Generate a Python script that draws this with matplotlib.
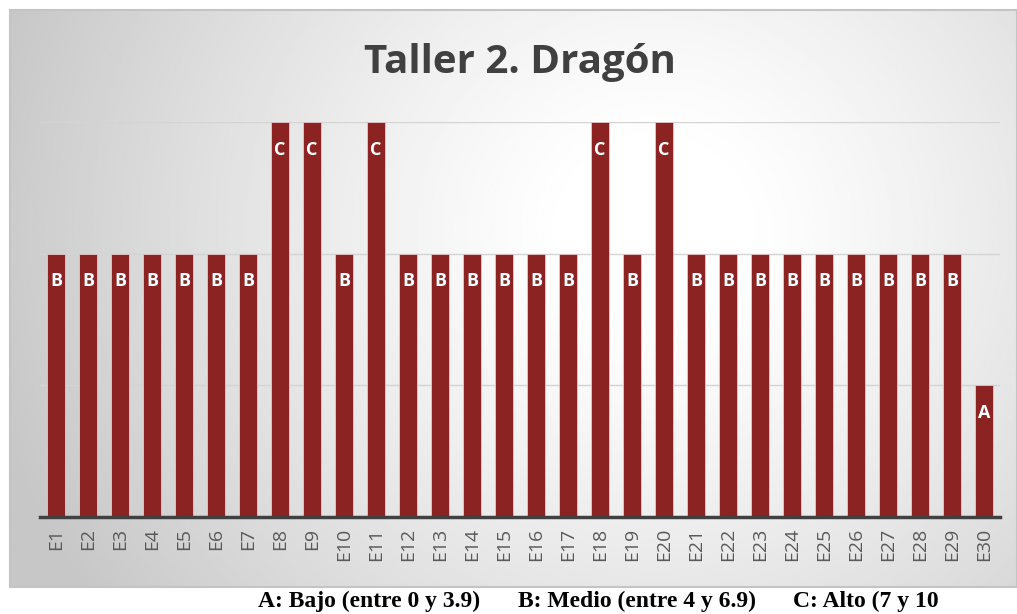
import numpy as np
import matplotlib.pyplot as plt
from matplotlib.patches import Rectangle

estudiantes = ["E%d" % i for i in range(1, 31)]
niveles = ["B", "B", "B", "B", "B", "B", "B", "C", "C", "B",
           "C", "B", "B", "B", "B", "B", "B", "C", "B", "C",
           "B", "B", "B", "B", "B", "B", "B", "B", "B", "A"]
valor_nivel = {"A": 1, "B": 2, "C": 3}
valores = [valor_nivel[n] for n in niveles]
titulo = "Taller 2. Dragón"
leyenda = ["A: Bajo (entre 0 y 3.9)", "B: Medio (entre 4 y 6.9)", "C: Alto (7 y 10"]

W, H = 1017, 614
fig = plt.figure(figsize=(W / 100, H / 100), dpi=100)
fig.patch.set_facecolor("white")

# chart box with radial gradient
bx0, by0, bx1, by1 = 10, 10, 1017, 587
bg = fig.add_axes([bx0 / W, 1 - by1 / H, (bx1 - bx0) / W, (by1 - by0) / H])
gx, gy = np.meshgrid(np.linspace(0, 1, 400), np.linspace(0, 1, 240))
cx, cy = 0.64, 0.38
r = np.sqrt((gx - cx) ** 2 + ((gy - cy) * 0.6) ** 2) / 0.68
shade = 1 - 0.22 * np.clip((r - 0.12) / 0.88, 0, 1) ** 1.2
bg.imshow(shade, cmap="gray", vmin=0, vmax=1, aspect="auto",
          extent=[0, 1, 1, 0], interpolation="bilinear")
bg.set_xlim(0, 1)
bg.set_ylim(1, 0)
bg.axis("off")
bg.add_patch(Rectangle((0, 0), 1, 1, transform=bg.transAxes, fill=False,
                       edgecolor="#c4c4c4", linewidth=1.5, clip_on=False))

# plot area
ax = fig.add_axes([40 / W, 1 - 517 / H, 960 / W, (517 - 122) / H])
ax.set_facecolor("none")
x = np.arange(len(estudiantes))
ax.bar(x, valores, width=0.56, color="#8c2323", edgecolor="#e8c8c8",
       linewidth=0.6, zorder=3)
ax.set_xlim(-0.5, len(estudiantes) - 0.5)
ax.set_ylim(0, 3)
for yv in [1, 2, 3]:
    ax.axhline(yv, color="#d4d4d4", linewidth=1, zorder=1)
for xi, v, n in zip(x, valores, niveles):
    ax.text(xi, v - 0.21, n, ha="center", va="center", color="white",
            fontsize=13, fontweight="bold", family="Open Sans", zorder=4)

for s in ["top", "right", "left"]:
    ax.spines[s].set_visible(False)
ax.spines["bottom"].set_color("#404040")
ax.spines["bottom"].set_linewidth(2.5)
ax.spines["bottom"].set_zorder(5)
ax.set_yticks([])
ax.set_xticks(x)
ax.set_xticklabels(estudiantes, rotation=90, fontsize=14, color="#595959",
                   family="Open Sans")
ax.tick_params(axis="x", length=0, pad=8)

fig.text(520 / W, 1 - 62 / H, titulo, ha="center", va="center", fontsize=29,
         fontweight="bold", color="#404040", family="Open Sans")

for xt, t in zip([258, 518, 793], leyenda):
    fig.text(xt / W, 1 - 601 / H, t, ha="left", va="center", fontsize=17,
             fontweight="bold", color="black", family="Liberation Serif")

fig.savefig("out.png", dpi=100)
